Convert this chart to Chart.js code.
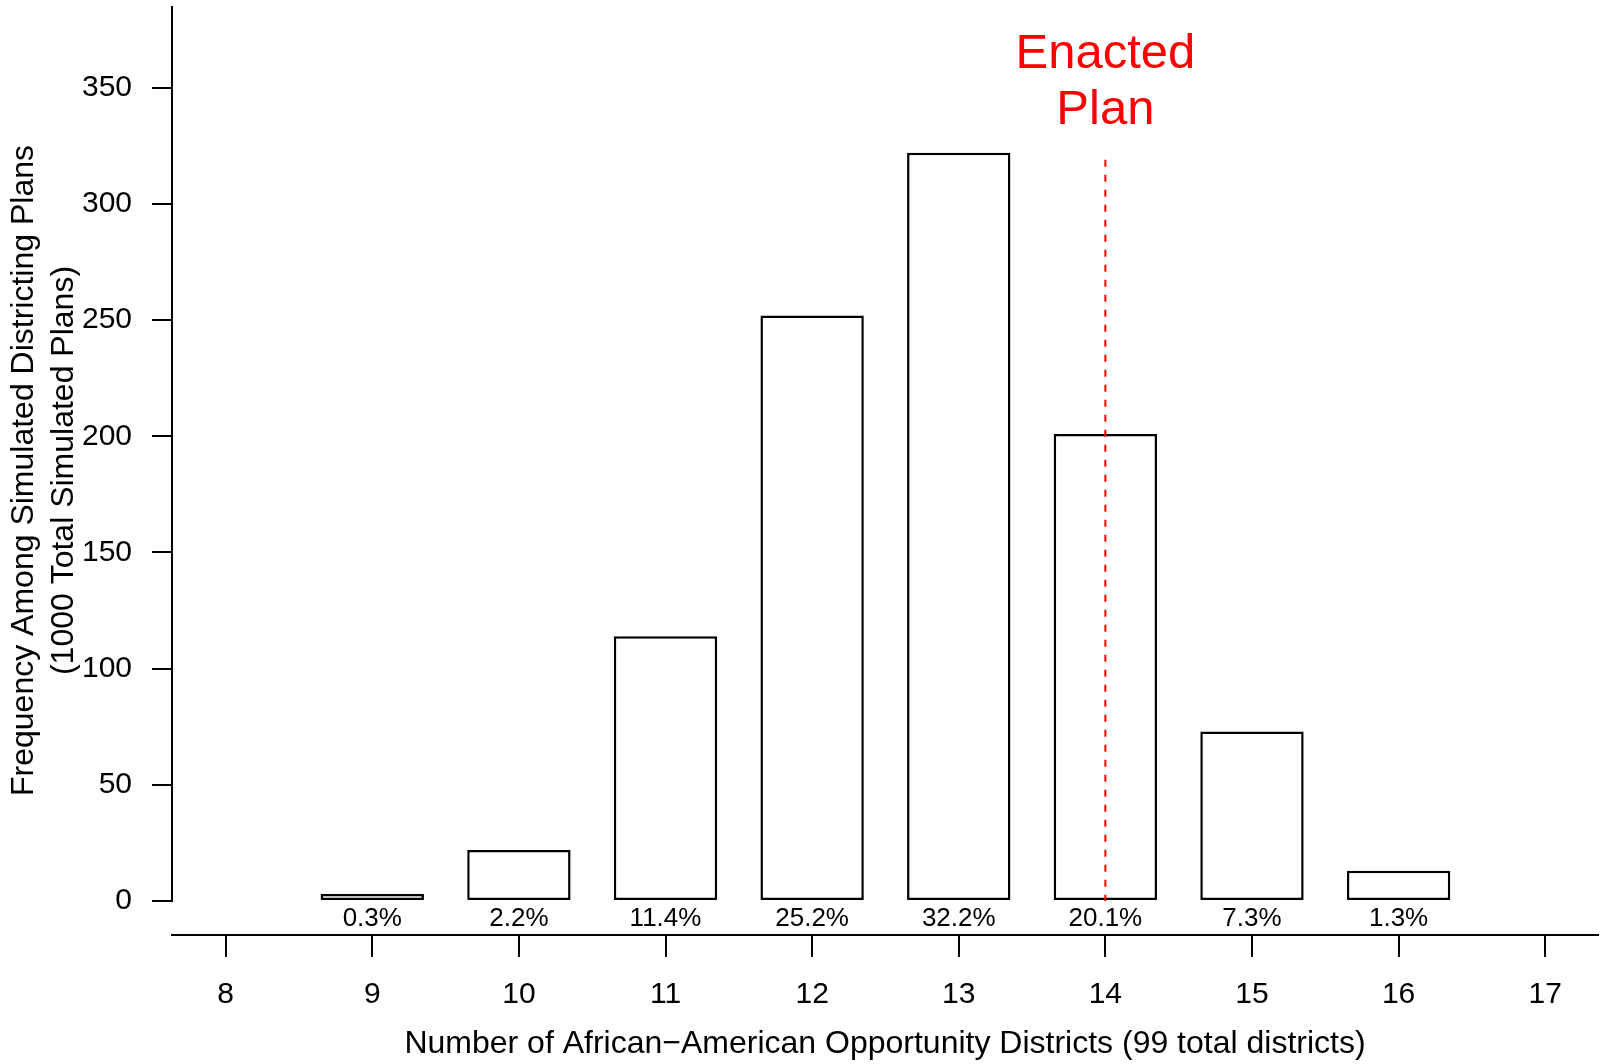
<!DOCTYPE html>
<html>
<head>
<meta charset="utf-8">
<script src="https://cdn.jsdelivr.net/npm/chart.js@4"></script>
<style>
  html, body { margin: 0; padding: 0; background: #ffffff; }
  canvas { display: block; }
</style>
</head>
<body>
<canvas id="c" width="1602" height="1064"></canvas>
<script>
// ---- data ----
const districts = [9, 10, 11, 12, 13, 14, 15, 16];
const frequencies = [3, 22, 114, 252, 322, 201, 73, 13];
const pctLabels = ['0.3%', '2.2%', '11.4%', '25.2%', '32.2%', '20.1%', '7.3%', '1.3%'];
const xTickValues = [8, 9, 10, 11, 12, 13, 14, 15, 16, 17];
const yTickValues = [0, 50, 100, 150, 200, 250, 300, 350];
const enactedValue = 14;
const enactedLineTop = 319;
const enactedLabel = ['Enacted', 'Plan'];
const xTitle = 'Number of African\u2212American Opportunity Districts (99 total districts)';
const yTitle = ['Frequency Among Simulated Districting Plans', '(1000 Total Simulated Plans)'];

const xMin = 7.634, xMax = 17.36;
const yMin = -14.63, yMax = 385.2;

const FONT = '"Liberation Sans", Arial, Helvetica, sans-serif';

const barData = districts.map((d, i) => ({ x: d, y: frequencies[i] }));
const enactedLine = [{ x: enactedValue, y: enactedLineTop }, { x: enactedValue, y: 0 }];

const extrasPlugin = {
  id: 'extras',
  afterDatasetsDraw(chart) {
    const ctx = chart.ctx;
    const xs = chart.scales.x, ys = chart.scales.y;
    ctx.save();
    // y axis line from 0 up to top of plot area
    ctx.strokeStyle = '#000';
    ctx.lineWidth = 2;
    ctx.beginPath();
    ctx.moveTo(chart.chartArea.left, ys.getPixelForValue(0) + 1);
    ctx.lineTo(chart.chartArea.left, chart.chartArea.top);
    ctx.stroke();
    // percent labels beneath bars
    ctx.fillStyle = '#000';
    ctx.font = '26px ' + FONT;
    ctx.textAlign = 'center';
    ctx.textBaseline = 'middle';
    const y0 = ys.getPixelForValue(0);
    districts.forEach((d, i) => {
      ctx.fillText(pctLabels[i], xs.getPixelForValue(d), y0 + 18);
    });
    // Enacted Plan label
    ctx.fillStyle = '#ff0000';
    ctx.font = '49px ' + FONT;
    ctx.textBaseline = 'alphabetic';
    const ex = xs.getPixelForValue(enactedValue);
    ctx.fillText(enactedLabel[0], ex, 68);
    ctx.fillText(enactedLabel[1], ex, 124);
    ctx.restore();
  }
};

new Chart(document.getElementById('c'), {
  type: 'bar',
  data: {
    datasets: [
      {
        type: 'line',
        data: enactedLine,
        borderColor: '#ff0000',
        borderWidth: 2,
        borderDash: [7, 8],
        pointRadius: 0,
        fill: false,
        order: 0
      },
      {
        type: 'bar',
        data: barData,
        backgroundColor: '#ffffff',
        borderColor: '#000000',
        borderWidth: 2.5,
        borderSkipped: false,
        barPercentage: 0.705,
        categoryPercentage: 1.0,
        order: 1
      }
    ]
  },
  options: {
    responsive: false,
    animation: false,
    events: [],
    layout: { padding: { top: 6, right: 4, left: 0, bottom: 0 } },
    plugins: { legend: { display: false }, tooltip: { enabled: false } },
    scales: {
      x: {
        type: 'linear',
        min: xMin,
        max: xMax,
        offset: false,
        afterBuildTicks(scale) { scale.ticks = xTickValues.map(v => ({ value: v })); },
        afterFit(scale) { scale.height = 129; scale.paddingLeft = 0; scale.paddingRight = 0; },
        grid: { drawOnChartArea: false, drawTicks: true, tickLength: 22, color: '#000', lineWidth: 2, offset: false },
        border: { display: true, color: '#000', width: 2 },
        ticks: { color: '#000', font: { family: FONT, size: 30 }, padding: 20, maxRotation: 0, autoSkip: false },
        title: { display: true, text: xTitle, color: '#000', font: { family: FONT, size: 32, lineHeight: 1.2 }, padding: { top: 0, bottom: 1 } }
      },
      y: {
        type: 'linear',
        min: yMin,
        max: yMax,
        afterBuildTicks(scale) { scale.ticks = yTickValues.map(v => ({ value: v })); },
        afterFit(scale) { scale.width = 172; scale.paddingTop = 0; scale.paddingBottom = 0; },
        grid: { drawOnChartArea: false, drawTicks: true, tickLength: 20, color: '#000', lineWidth: 2 },
        border: { display: false },
        ticks: { color: '#000', font: { family: FONT, size: 30 }, padding: 20 },
        title: { display: true, text: yTitle, color: '#000', font: { family: FONT, size: 32, lineHeight: 1.25 }, padding: { top: 4, bottom: 0 } }
      }
    }
  },
  plugins: [extrasPlugin]
});
</script>
</body>
</html>
